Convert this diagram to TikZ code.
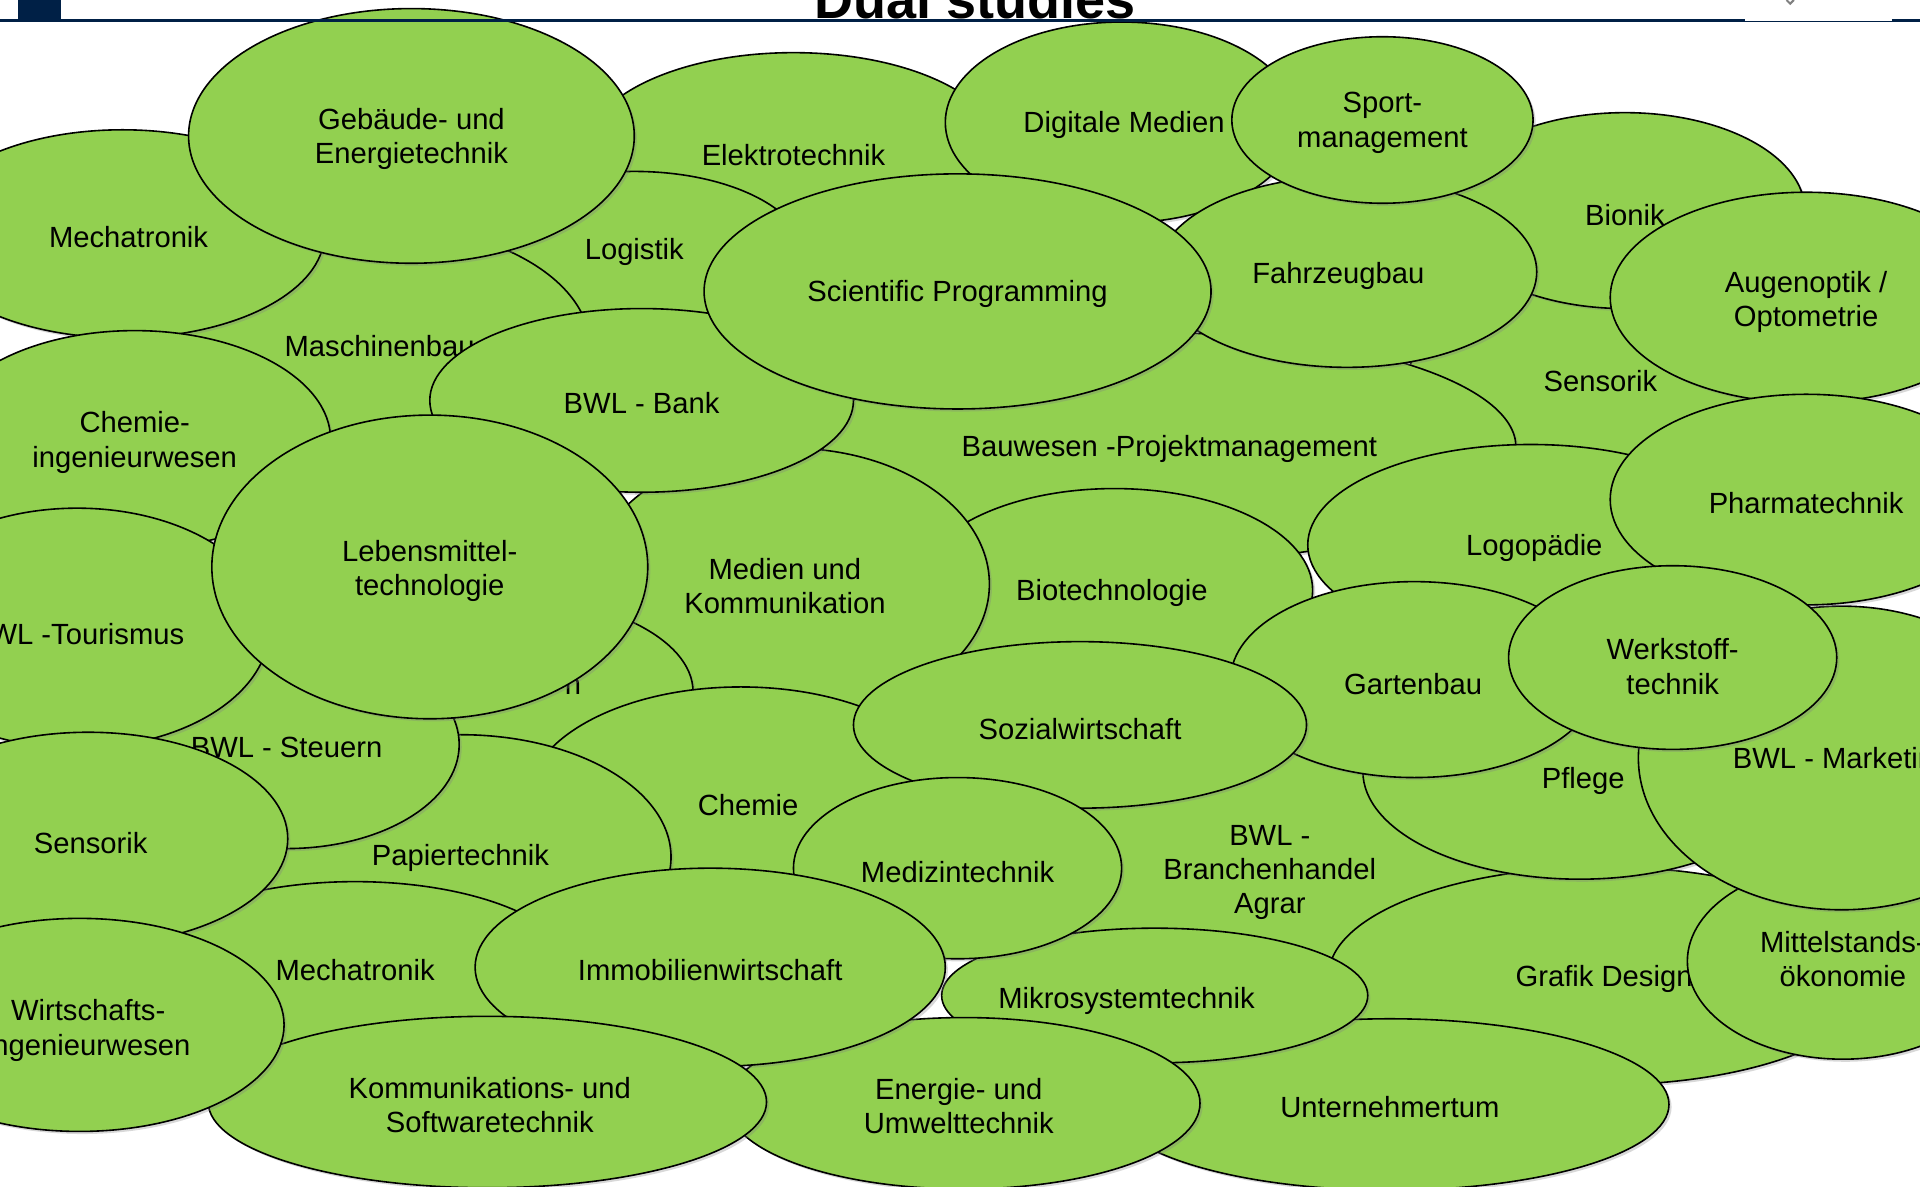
\documentclass[tikz,border=0pt]{standalone}
\usepackage{fontspec}
\setmainfont{Liberation Sans}
\usetikzlibrary{shapes.geometric,shadows}
\definecolor{blobgreen}{RGB}{146,208,80}
\definecolor{navy}{RGB}{0,32,70}
\tikzset{
  blob/.style={ellipse, draw=black, line width=0.8pt, fill=blobgreen, inner sep=0pt,
    drop shadow={shadow xshift=1.3pt, shadow yshift=-1.3pt, opacity=0.3}},
  lbl/.style={align=center, font=\fontsize{14.6}{17.2}\selectfont, inner sep=0pt, text=black, yshift=-1.5pt},
  headline/.style={draw=navy, line width=1.5pt},
}
% name, cx, cy, rx, ry, tx, ty, text
\newcommand{\blob}[8]{%
  \node[blob, minimum width=#4*1.2244pt, minimum height=#5*1.2244pt] (#1) at (#2,#3) {};
  \node[lbl] (#1t) at (#6,#7) {#8};
}
\begin{document}
\begin{tikzpicture}[x=0.6122pt, y=-0.6122pt]
\useasboundingbox (0,0) rectangle (1568,969);
\fill[white] (0,0) rectangle (1568,969);

\blob{elektro}{648}{124}{170}{81}{648}{124}{Elektrotechnik}
\blob{logistik}{518}{210}{140}{70}{518}{203}{Logistik}
\blob{maschbau}{310}{284}{172}{100}{310}{280}{Maschinenbau}
\blob{mechA}{100}{191}{165}{85}{105}{191}{Mechatronik}
\blob{chemieing}{110}{359}{160}{89}{110}{359}{Chemie-\\ingenieurwesen}
\blob{gebaeude}{336}{111}{182}{104}{336}{111}{Gebäude- und\\Energietechnik}
\blob{digmed}{916}{100}{144}{82}{918}{100}{Digitale Medien}
\blob{sensorR}{1307}{309}{157}{75}{1307}{309}{Sensorik}
\blob{bionik}{1327}{172}{147}{80}{1327}{173}{Bionik}
\blob{bauwesen}{955}{365}{283}{93}{955}{364}{Bauwesen -Projektmanagement}
\blob{fahrzeug}{1100}{222}{155}{78}{1093}{223}{Fahrzeugbau}
\blob{sport}{1129}{98}{123}{68}{1129}{98}{Sport-\\management}
\blob{augen}{1475}{243}{160}{86}{1475}{244}{Augenoptik /\\Optometrie}
\blob{biotech}{910}{482}{162}{83}{908}{482}{Biotechnologie}
\blob{medien}{645}{477}{163}{111}{641}{476}{Medien und\\Kommunikation}
\blob{bank}{524}{327}{173}{75}{524}{327}{BWL - Bank}
\blob{sciprog}{782}{238}{207}{96}{782}{238}{Scientific Programming}
\blob{logo}{1250}{445}{182}{82}{1253}{445}{Logopädie}
\blob{branchen}{1037}{712}{215}{100}{1037}{710}{BWL -\\Branchenhandel\\Agrar}
\blob{grafik}{1310}{797}{225}{89}{1310}{797}{Grafik Design}
\blob{pflege}{1290}{630}{177}{88}{1293}{635}{Pflege}
\blob{garten}{1155}{555}{150}{80}{1154}{556}{Gartenbau}
\blob{mittel}{1505}{785}{127}{80}{1505}{781}{Mittelstands-\\ökonomie}
\blob{marketing}{1504}{619}{166}{124}{1504}{619}{BWL - Marketing}
\blob{pharma}{1475}{408}{160}{86}{1475}{408}{Pharmatechnik}
\blob{werkstoff}{1366}{537}{134}{75}{1366}{542}{Werkstoff-\\technik}
\blob{unternehmer}{1135}{902}{228}{70}{1135}{902}{Unternehmertum}
\blob{hidden}{400}{565}{166}{80}{468}{558}{n}
\blob{chemie}{605}{655}{175}{94}{611}{655}{Chemie}
\blob{papier}{376}{700}{172}{100}{376}{698}{Papiertechnik}
\blob{steuern}{234}{608}{141}{85}{234}{608}{BWL - Steuern}
\blob{tourismus}{63}{513}{157}{98}{63}{515}{BWL -Tourismus}
\blob{lebensmittel}{351}{463}{178}{124}{351}{464}{Lebensmittel-\\technologie}
\blob{sozial}{882}{592}{185}{68}{882}{593}{Sozialwirtschaft}
\blob{mikro}{943}{813}{174}{55}{920}{815}{Mikrosystemtechnik}
\blob{medizin}{782}{709}{134}{74}{782}{710}{Medizintechnik}
\blob{energie}{787}{901}{193}{70}{783}{901}{Energie- und\\Umwelttechnik}
\blob{mechB}{290}{795}{180}{75}{290}{790}{Mechatronik}
\blob{sensorL}{72}{685}{163}{87}{74}{686}{Sensorik}
\blob{immo}{580}{790}{192}{81}{580}{790}{Immobilienwirtschaft}
\blob{komm}{398}{900}{228}{70}{400}{900}{Kommunikations- und\\Softwaretechnik}
\blob{wirtschaft}{65}{837}{167}{87}{72}{839}{Wirtschafts-\\ingenieurwesen}

% header
\fill[navy] (15,0) rectangle (50,17);
\draw[headline] (0,17) -- (1425,17);
\draw[headline] (1545,17) -- (1568,17);
\draw[navy, line width=0.4pt] (1425,17.5) -- (1545,17.5);
\draw[gray, line width=1pt] (1459,0) -- (1462,3) -- (1465,0);
\node[font=\bfseries\fontsize{27}{30}\selectfont, anchor=base, inner sep=0pt] (title) at (796,15) {Dual studies};
\end{tikzpicture}
\end{document}
